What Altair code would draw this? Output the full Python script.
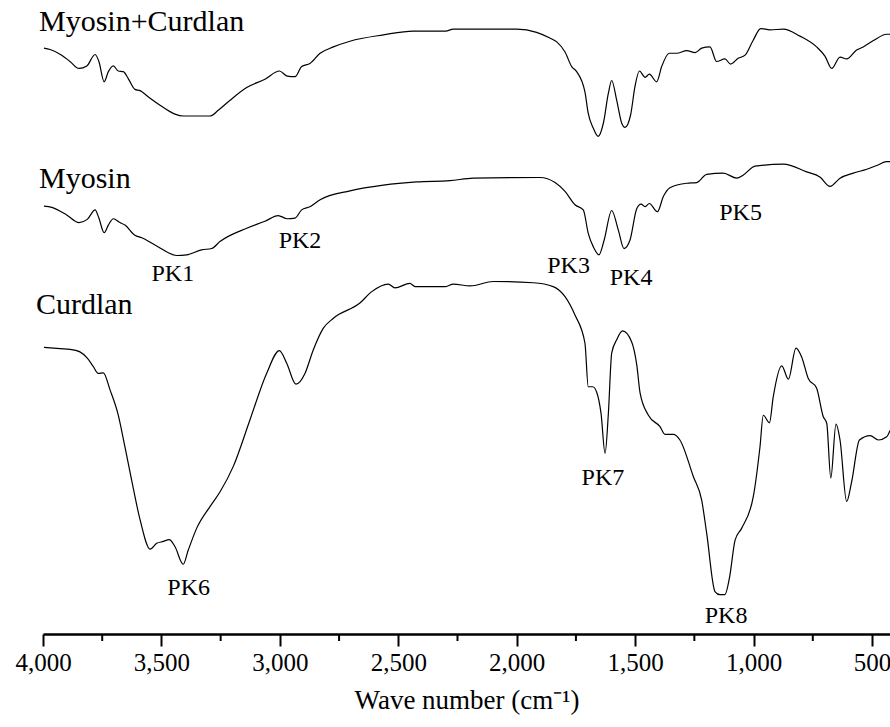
import altair as alt
import pandas as pd

# ---- Myosin+Curdlan spectrum (wavenumber cm-1, transmittance a.u.) ----
mc_wn = [3996, 3970, 3921, 3886, 3848, 3815, 3780, 3764, 3742, 3724, 3703, 3682, 3661, 3640,
         3612, 3590, 3555, 3506, 3443, 3408, 3337, 3295, 3260, 3210, 3140, 3063, 3002, 2969,
         2936, 2908, 2873, 2830, 2774, 2704, 2563, 2437, 2300, 2268, 2183, 2000, 1916, 1860,
         1831, 1796, 1768, 1747, 1712, 1698, 1677, 1656, 1634, 1613, 1599, 1578, 1557, 1543,
         1519, 1501, 1482, 1458, 1440, 1409, 1388, 1356, 1325, 1282, 1247, 1219, 1184, 1156,
         1121, 1097, 1065, 1036, 1001, 970, 931, 874, 804, 734, 698, 670, 635, 607, 565, 537,
         494, 438, 424]
mc_t = [92.4, 92.2, 91.3, 90.3, 89.2, 89.6, 91.4, 90.3, 87.1, 88.7, 89.6, 88.8, 88.7, 87.6,
        85.9, 85.7, 84.7, 83.4, 82.0, 81.7, 81.7, 81.7, 82.6, 84.2, 86.2, 87.5, 88.8, 88.0,
        87.9, 89.5, 90.0, 91.6, 92.6, 93.5, 94.5, 95.1, 95.1, 95.4, 95.4, 95.4, 94.9, 94.0,
        93.4, 91.8, 89.5, 88.7, 85.5, 82.1, 79.8, 78.5, 80.6, 85.3, 87.3, 84.2, 80.6, 79.9,
        81.9, 86.3, 88.8, 87.8, 88.3, 87.1, 89.5, 91.6, 91.6, 92.0, 91.7, 92.4, 92.6, 90.3,
        90.7, 89.9, 90.8, 91.3, 93.7, 95.5, 95.3, 95.4, 94.3, 92.6, 91.1, 89.2, 91.0, 90.7,
        92.1, 92.6, 93.6, 94.6, 94.6]

# ---- Myosin spectrum ----
my_wn = [3996, 3963, 3900, 3848, 3813, 3780, 3764, 3742, 3724, 3703, 3675, 3654, 3612, 3583,
         3520, 3436, 3393, 3330, 3288, 3253, 3140, 3063, 3007, 2969, 2936, 2908, 2873, 2830,
         2704, 2563, 2422, 2282, 2183, 1902, 1838, 1796, 1754, 1719, 1698, 1677, 1653, 1631,
         1599, 1571, 1547, 1522, 1493, 1475, 1458, 1440, 1406, 1381, 1353, 1282, 1240, 1198,
         1128, 1071, 1043, 994, 874, 776, 720, 677, 635, 579, 522, 480, 438, 424]
my_t = [67.5, 67.3, 66.1, 64.9, 65.4, 66.9, 65.6, 63.3, 64.5, 65.5, 64.9, 64.5, 62.9, 62.5,
        61.2, 59.7, 59.8, 60.6, 60.8, 61.9, 64.0, 65.1, 66.0, 65.5, 65.6, 66.9, 67.4, 68.5,
        69.9, 70.8, 71.3, 71.5, 71.9, 72.0, 71.2, 69.8, 67.7, 66.9, 63.2, 61.1, 59.8, 62.1,
        66.8, 63.7, 60.8, 62.1, 67.1, 67.8, 67.4, 67.9, 66.6, 69.0, 70.4, 71.1, 71.2, 72.5,
        72.7, 71.9, 72.4, 73.8, 74.1, 72.9, 72.1, 70.6, 71.9, 72.7, 73.3, 73.9, 74.5, 74.5]

# ---- Curdlan spectrum ----
cu_wn = [3996, 3928, 3886, 3844, 3813, 3788, 3767, 3745, 3717, 3682, 3654, 3626, 3590, 3548,
         3520, 3492, 3467, 3443, 3408, 3387, 3351, 3295, 3253, 3197, 3126, 3056, 3002, 2971,
         2932, 2894, 2859, 2817, 2774, 2662, 2612, 2542, 2514, 2451, 2429, 2300, 2268, 2197,
         2099, 1930, 1846, 1796, 1754, 1712, 1698, 1679, 1662, 1644, 1627, 1613, 1599, 1578,
         1553, 1515, 1493, 1479, 1444, 1395, 1374, 1339, 1311, 1254, 1219, 1198, 1163, 1142,
         1121, 1102, 1078, 1050, 1001, 973, 959, 933, 917, 881, 853, 821, 797, 769, 734, 706,
         691, 674, 652, 635, 607, 586, 553, 508, 473, 438, 424]
cu_t = [45.2, 45.0, 44.9, 44.5, 43.5, 42.2, 41.1, 41.2, 38.5, 34.5, 29.5, 24.3, 18.0, 13.4,
        14.3, 14.6, 14.9, 13.8, 11.0, 13.2, 16.7, 20.1, 22.4, 26.4, 33.8, 41.1, 44.7, 42.7,
        39.4, 41.1, 44.8, 48.2, 49.8, 52.2, 54.0, 55.2, 54.6, 55.3, 54.8, 54.8, 55.2, 54.9,
        55.6, 55.4, 54.8, 53.2, 50.3, 45.9, 39.0, 39.0, 38.1, 34.8, 28.5, 34.8, 44.3, 46.4,
        47.8, 46.1, 42.4, 38.0, 34.5, 32.7, 31.5, 31.5, 30.6, 24.8, 21.1, 15.9, 6.7, 6.2,
        6.2, 8.8, 14.8, 16.7, 21.7, 29.5, 34.5, 33.3, 37.4, 42.3, 40.2, 45.1, 43.7, 40.3, 38.8,
        34.3, 33.2, 24.6, 33.1, 30.6, 20.9, 24.0, 30.6, 31.3, 30.6, 31.1, 32.1]

# ---- labels ----
series_names = ["Myosin+Curdlan", "Myosin", "Curdlan"]
series_label_wn = [4017, 4017, 4030]
series_label_t = [95.1, 70.3, 50.5]

peak_names = ["PK1", "PK2", "PK3", "PK4", "PK5", "PK6", "PK7", "PK8"]
peak_wn = [3452, 2915, 1781, 1517, 1055, 3385, 1636, 1116]
peak_t = [55.6, 60.9, 56.9, 55.0, 65.3, 6.2, 23.5, 1.7]

major_ticks = [4000, 3500, 3000, 2500, 2000, 1500, 1000, 500]
minor_ticks = [3750, 3250, 2750, 2250, 1750, 1250, 750]

FONT = "Liberation Serif"

rows = []
for name, wn, t in [("Myosin+Curdlan", mc_wn, mc_t), ("Myosin", my_wn, my_t), ("Curdlan", cu_wn, cu_t)]:
    for a, b in zip(wn, t):
        rows.append({"series": name, "wn": a, "t": b})
spec_df = pd.DataFrame(rows)

xscale = alt.Scale(domain=[4000, 424], nice=False, zero=False)
yscale = alt.Scale(domain=[0, 100], nice=False, zero=False)

xaxis = alt.Axis(
    values=major_ticks, format=",.0f", grid=False,
    title="Wave number (cm⁻¹)", titleFont=FONT, titleFontSize=27, titleFontWeight="normal",
    titleColor="black", titlePadding=12,
    labelFont=FONT, labelFontSize=25, labelColor="black", labelPadding=4,
    tickSize=12, tickWidth=2, tickColor="black",
    domainColor="black", domainWidth=2.5, labelFlush=False,
)

lines = alt.Chart(spec_df).mark_line(color="black", strokeWidth=1.2, interpolate="monotone").encode(
    x=alt.X("wn:Q", scale=xscale, axis=xaxis),
    y=alt.Y("t:Q", scale=yscale, axis=None),
    detail="series:N",
)

minor = alt.Chart(pd.DataFrame({"wn": minor_ticks})).mark_rule(color="black", strokeWidth=2).encode(
    x=alt.X("wn:Q", scale=xscale),
    y=alt.value(634),
    y2=alt.value(641),
)

series_text = alt.Chart(
    pd.DataFrame({"name": series_names, "wn": series_label_wn, "t": series_label_t})
).mark_text(font=FONT, fontSize=30, align="left", baseline="alphabetic", color="black").encode(
    x=alt.X("wn:Q", scale=xscale),
    y=alt.Y("t:Q", scale=yscale, axis=None),
    text="name:N",
)

peak_text = alt.Chart(
    pd.DataFrame({"name": peak_names, "wn": peak_wn, "t": peak_t})
).mark_text(font=FONT, fontSize=24, align="center", baseline="alphabetic", color="black").encode(
    x=alt.X("wn:Q", scale=xscale),
    y=alt.Y("t:Q", scale=yscale, axis=None),
    text="name:N",
)

chart = alt.layer(lines, minor, series_text, peak_text).properties(
    width=847, height=634,
    padding={"left": 43, "top": 0, "right": 0, "bottom": 93},
    autosize=alt.AutoSizeParams(type="none"),
    background="white",
).configure_view(strokeWidth=0)

chart.save("out.html", embed_options={"renderer": "svg", "actions": False})
